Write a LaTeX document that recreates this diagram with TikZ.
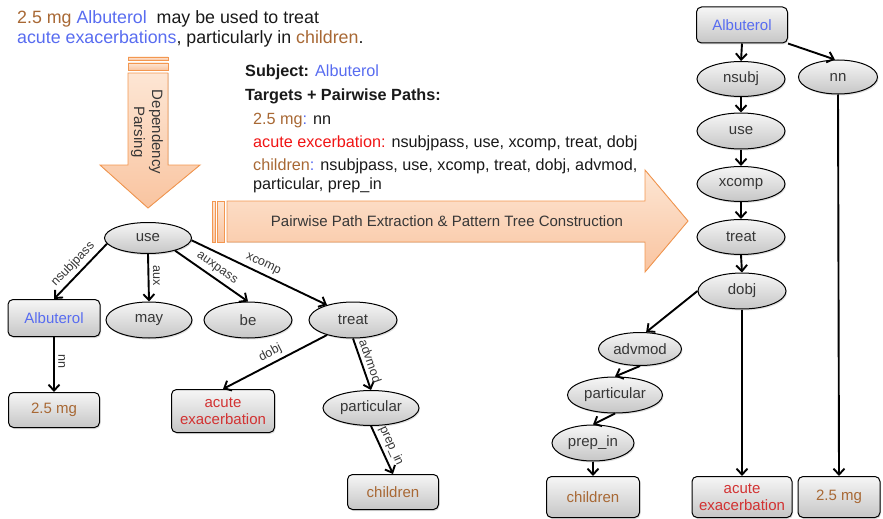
\documentclass[tikz,border=0pt]{standalone}
\usepackage{fontspec}
\setmainfont{Liberation Sans}
\usetikzlibrary{shapes.geometric,arrows.meta,shadows}

\definecolor{drugblue}{RGB}{88,108,240}
\definecolor{dosebrown}{RGB}{168,104,52}
\definecolor{listred}{RGB}{240,20,20}
\definecolor{boxred}{RGB}{210,50,50}
\definecolor{nodetext}{RGB}{55,55,55}
\definecolor{bodytext}{RGB}{25,25,25}
\definecolor{arrowline}{RGB}{243,151,80}
\definecolor{arrowtop}{RGB}{253,230,212}
\definecolor{arrowbot}{RGB}{249,196,160}
\definecolor{nodetop}{RGB}{246,246,246}
\definecolor{nodebot}{RGB}{198,198,198}

\begin{document}
\begin{tikzpicture}[x=1pt,y=1pt,
  every node/.style={inner sep=0pt},
  ell/.style={ellipse,draw=black,line width=1pt,top color=nodetop,bottom color=nodebot,
    minimum width=88pt,minimum height=35pt,font=\fontsize{15}{18}\selectfont,text=nodetext,
    drop shadow={opacity=0.25,shadow xshift=1pt,shadow yshift=-1.5pt}},
  box/.style={rectangle,rounded corners=5pt,draw=black,line width=1pt,top color=nodetop,bottom color=nodebot,
    minimum width=91pt,minimum height=36pt,font=\fontsize{15}{17}\selectfont,align=center,
    drop shadow={opacity=0.25,shadow xshift=1pt,shadow yshift=-1.5pt}},
  dep/.style={line width=1.9pt,-{Straight Barb[length=6pt,width=11pt]}},
  lab/.style={font=\fontsize{12.5}{14}\selectfont,text=nodetext,inner sep=3.5pt},
  bigarrow/.style={draw=arrowline,line width=0.9pt,top color=arrowtop,bottom color=arrowbot},
  txt/.style={anchor=base west,text=bodytext,font=\fontsize{16.2}{19}\selectfont}
]
\useasboundingbox (0,0) rectangle (883,-519);

% ---------- sentence ----------
\node[txt,font=\fontsize{17.8}{20}\selectfont] (sent1) at (17,-24)
  {\textcolor{dosebrown}{2.5 mg} \textcolor{drugblue}{Albuterol}\ \ may be used to treat};
\node[txt,font=\fontsize{17.8}{20}\selectfont] (sent2) at (17,-44)
  {\textcolor{drugblue}{acute exacerbations}, particularly in \textcolor{dosebrown}{children}.};

% ---------- parsing arrow (downwards) ----------
\filldraw[bigarrow] (128,-57) rectangle (168,-60);
\filldraw[bigarrow] (128,-63) rectangle (168,-70);
\filldraw[bigarrow] (128,-73) -- (168,-73) -- (168,-165) -- (200,-165) -- (148,-208)
  -- (100,-165) -- (128,-165) -- cycle;
\node[rotate=-90,align=center,text=nodetext,font=\fontsize{15}{18}\selectfont] (parsing) at (147,-132)
  {Dependency\\Parsing};

% ---------- extraction arrow (rightwards) ----------
\filldraw[bigarrow] (212,-201) rectangle (215,-242);
\filldraw[bigarrow] (217,-201) rectangle (224,-242);
\filldraw[bigarrow] (227,-201) -- (645,-201) -- (645,-170) -- (688,-221) -- (645,-272)
  -- (645,-242) -- (227,-242) -- cycle;
\node[text=nodetext,font=\fontsize{15}{18}\selectfont] (extract) at (447,-221)
  {Pairwise Path Extraction \& Pattern Tree Construction};

% ---------- subject / targets ----------
\node[txt] (subj) at (245,-77) {\textbf{Subject:} \textcolor{drugblue}{Albuterol}};
\node[txt] (targ) at (245,-100) {\textbf{Targets + Pairwise Paths:}};
\node[txt] (t1) at (253,-124) {\textcolor{dosebrown}{2.5 mg}\textcolor{drugblue}{:} nn};
\node[txt] (t2) at (253,-147) {\textcolor{listred}{acute excerbation:} nsubjpass, use, xcomp, treat, dobj};
\node[txt] (t3) at (253,-170) {\textcolor{dosebrown}{children}\textcolor{drugblue}{:} nsubjpass, use, xcomp, treat, dobj, advmod,};
\node[txt] (t4) at (253,-189) {particular, prep\_in};

% ---------- dependency tree ----------
\node[ell,minimum width=87pt,minimum height=31pt] (use) at (148,-238) {use};
\node[box,minimum width=92pt,minimum height=37pt,text=drugblue] (alb) at (54,-318) {Albuterol};
\node[ell,minimum width=86pt,minimum height=36pt] (may) at (149,-320) {may};
\node[ell,minimum width=88pt,minimum height=36pt] (be) at (248,-320) {be};
\node[ell,minimum width=88pt,minimum height=36pt] (treat) at (353,-320) {treat};
\node[box,minimum width=91pt,minimum height=35pt,text=dosebrown] (mg) at (54,-410) {2.5 mg};
\node[box,minimum width=103pt,minimum height=43pt,text=boxred] (acute) at (223,-411) {acute\\exacerbation};
\node[ell,minimum width=96pt,minimum height=35pt] (part) at (371,-408) {particular};
\node[box,minimum width=91pt,minimum height=35pt,text=dosebrown] (child) at (393,-492) {children};

\draw[dep] (use.188) -- node[lab,sloped,above] {nsubjpass} (alb.north);
\draw[dep] (use.south) -- node[lab,rotate=-90,anchor=south,pos=0.45] {aux} (may.north);
\draw[dep] (use.-25) -- node[lab,sloped,above] {auxpass} (be.north);
\draw[dep] (use.-3) -- node[lab,sloped,above] {xcomp} (treat.150);
\draw[dep] (alb.south) -- node[lab,rotate=-90,anchor=south,pos=0.45] {nn} (mg.north);
\draw[dep] (treat.-150) -- node[lab,sloped,above] {dobj} (acute.north);
\draw[dep] (treat.south) -- node[lab,sloped,above] {advmod} (part.north);
\draw[dep] (part.south) -- node[lab,sloped,above] {prep\_in} (child.north);

% ---------- pattern tree ----------
\node[box,minimum width=91pt,minimum height=36pt,text=drugblue] (ralb) at (742,-25) {Albuterol};
\node[ell] (rnsubj) at (741,-79) {nsubj};
\node[ell,minimum width=79pt,minimum height=34pt] (rnn) at (838,-77) {nn};
\node[ell,minimum height=36pt] (ruse) at (741,-131) {use};
\node[ell] (rxcomp) at (741,-184) {xcomp};
\node[ell] (rtreat) at (741,-237) {treat};
\node[ell,minimum height=36pt] (rdobj) at (742,-291) {dobj};
\node[ell,minimum width=83pt,minimum height=33pt] (radv) at (640,-349) {advmod};
\node[ell,minimum width=95pt,minimum height=36pt] (rpart) at (615,-395) {particular};
\node[ell,minimum width=82pt,minimum height=36pt] (rprep) at (593,-443) {prep\_in};
\node[box,minimum width=93pt,minimum height=41pt,text=dosebrown] (rchild) at (593,-497) {children};
\node[box,minimum width=100pt,minimum height=41pt,text=boxred] (racute) at (742,-497) {acute\\exacerbation};
\node[box,minimum width=82pt,minimum height=41pt,text=dosebrown] (rmg) at (839,-497) {2.5 mg};

\draw[dep] (ralb.south) -- (rnsubj.north);
\draw[dep] (ralb.south east) -- (rnn.100);
\draw[dep] (rnsubj.south) -- (ruse.north);
\draw[dep] (ruse.south) -- (rxcomp.north);
\draw[dep] (rxcomp.south) -- (rtreat.north);
\draw[dep] (rtreat.south) -- (rdobj.north);
\draw[dep] (rdobj.west) -- (radv.70);
\draw[dep] (rdobj.south) -- (racute.north);
\draw[dep] (radv.south) -- (rpart.north);
\draw[dep] (rpart.south) -- (rprep.north);
\draw[dep] (rprep.south) -- (rchild.north);
\draw[dep] (rnn.south) -- (rmg.north);
\end{tikzpicture}
\end{document}
